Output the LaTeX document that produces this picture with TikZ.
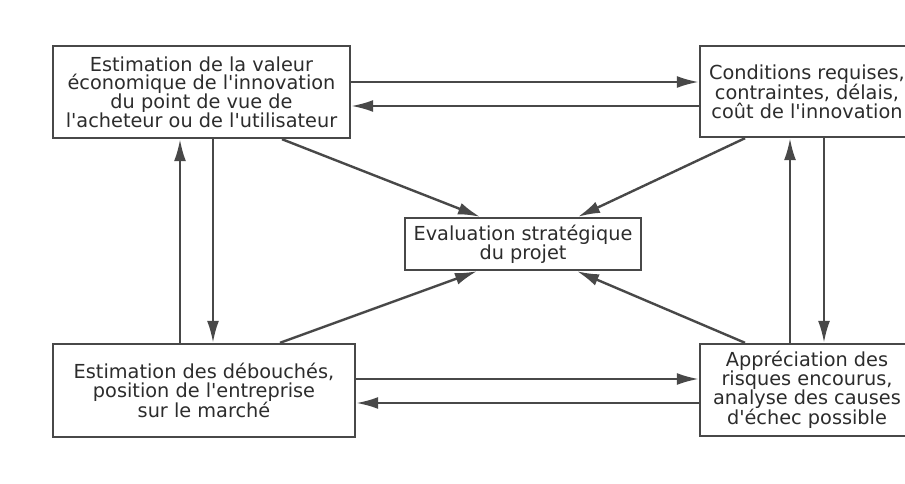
\documentclass[tikz,border=0pt]{standalone}
\usepackage{fontspec}
\newfontfamily\boxfont{DejaVu Sans}
\usetikzlibrary{arrows.meta}
\definecolor{trait}{HTML}{484848}
\definecolor{encre}{HTML}{2C2C2C}

\begin{document}
\begin{tikzpicture}[x=1pt, y=-1pt, >={Latex[length=22pt,width=12pt]},
  boite/.style={draw=trait, line width=2.4pt, fill=white, align=center, inner sep=0pt,
    text=encre, font=\boxfont\fontsize{19.3}{18.7}\selectfont},
  fleche/.style={->, draw=trait, line width=2.4pt}]
 \clip (0,0) rectangle (905,484);
 \fill [white] (0,0) rectangle (905,484);
 % les cinq cases
 \node [boite, minimum width=297pt, minimum height=92pt] (valeur) at (201.5,92)
   {Estimation de la valeur\\ économique de l'innovation\\ du point de vue de\\ l'acheteur ou de l'utilisateur};
 \node [boite, minimum width=214pt, minimum height=91pt] (conditions) at (807,91.5)
   {Conditions requises,\\ contraintes, délais,\\ coût de l'innovation};
 \node [boite, minimum width=236pt, minimum height=52pt] (evaluation) at (523,244)
   {Evaluation stratégique\\ du projet};
 \node [boite, minimum width=302pt, minimum height=93pt] (debouches) at (204,390.5)
   {Estimation des débouchés,\\ position de l'entreprise\\ sur le marché};
 \node [boite, minimum width=214pt, minimum height=92pt] (risques) at (807,390)
   {Appréciation des\\ risques encourus,\\ analyse des causes\\ d'échec possible};
 % liaisons horizontales
 \draw [fleche] (valeur.east |- 0,82) -- (conditions.west |- 0,82);
 \draw [fleche] (conditions.west |- 0,106) -- (valeur.east |- 0,106);
 \draw [fleche] (debouches.east |- 0,379) -- (risques.west |- 0,379);
 \draw [fleche] (risques.west |- 0,403) -- (debouches.east |- 0,403);
 % liaisons verticales
 \draw [fleche] (debouches.north -| 180,0) -- (valeur.south -| 180,0);
 \draw [fleche] (valeur.south -| 213,0) -- (debouches.north -| 213,0);
 \draw [fleche] (risques.north -| 790,0) -- (conditions.south -| 790,0);
 \draw [fleche] (conditions.south -| 824,0) -- (risques.north -| 824,0);
 % vers l'evaluation
 \draw [fleche] (valeur.south -| 282,0) -- (evaluation.north -| 480,0);
 \draw [fleche] (conditions.south -| 745,0) -- (evaluation.north -| 578,0);
 \draw [fleche] (debouches.north -| 280,0) -- (evaluation.south -| 477,0);
 \draw [fleche] (risques.north -| 745,0) -- (evaluation.south -| 577,0);
\end{tikzpicture}
\end{document}
